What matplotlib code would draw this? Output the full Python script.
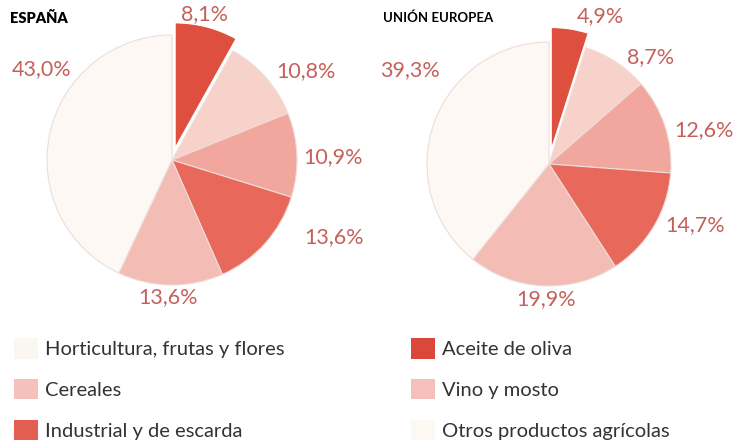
import matplotlib.pyplot as plt
from matplotlib.patches import Patch

plt.rcParams['font.family'] = ['Lato', 'DejaVu Sans']

# categories in the order they appear clockwise from 12 o'clock
slice_names = ['Aceite de oliva', 'Otros productos agrícolas', 'Vino y mosto',
               'Industrial y de escarda', 'Cereales', 'Horticultura, frutas y flores']
spain_values = [8.1, 10.8, 10.9, 13.6, 13.6, 43.0]
eu_values = [4.9, 8.7, 12.6, 14.7, 19.9, 39.3]
spain_labels = ['8,1%', '10,8%', '10,9%', '13,6%', '13,6%', '43,0%']
eu_labels = ['4,9%', '8,7%', '12,6%', '14,7%', '19,9%', '39,3%']

slice_colors = ['#de4f3e', '#f6d2cb', '#f2a79e', '#e9685c', '#f3bcb4', '#fdf8f4']
label_color = '#c4615b'

# legend (two columns, as in the original)
legend_left = ['Horticultura, frutas y flores', 'Cereales', 'Industrial y de escarda']
legend_left_colors = ['#f9f7f0', '#f4c2ba', '#e35e52']
legend_right = ['Aceite de oliva', 'Vino y mosto', 'Otros productos agrícolas']
legend_right_colors = ['#d9483a', '#f4c0b9', '#fbf9f2']

W, H = 744, 447
fig = plt.figure(figsize=(W / 100, H / 100), dpi=100)


def pie_axes(cx, cy, r):
    # axes so that a unit-radius pie has centre (cx, cy) px and radius r px
    return fig.add_axes([(cx - r) / W, (H - cy - r) / H, 2 * r / W, 2 * r / H])


def draw_pie(ax, values, labels, label_pos, explode):
    wedges, _ = ax.pie(values, colors=slice_colors, startangle=90, counterclock=False,
                       explode=[explode] + [0] * (len(values) - 1),
                       wedgeprops=dict(edgecolor='#eeddd9', linewidth=0.8))
    wedges[0].set_edgecolor('white')
    for w in wedges:
        w.set_clip_on(False)
    for txt, (x, y) in zip(labels, label_pos):
        ax.text(x, y, txt, ha='center', va='center', fontsize=15.5, color=label_color)
    ax.set_xlim(-1, 1)
    ax.set_ylim(-1, 1)
    ax.set_aspect('equal')
    ax.axis('off')


spain_pos = [(0.26, 1.17), (1.07, 0.71), (1.29, 0.02), (1.30, -0.62), (-0.03, -1.10), (-1.04, 0.73)]
eu_pos = [(0.42, 1.21), (0.83, 0.88), (1.27, 0.28), (1.20, -0.50), (-0.02, -1.11), (-1.14, 0.77)]

ax1 = pie_axes(172, 160, 125)
draw_pie(ax1, spain_values, spain_labels, spain_pos, 0.1)
ax2 = pie_axes(549, 164, 122)
draw_pie(ax2, eu_values, eu_labels, eu_pos, 0.12)

fig.text(10 / W, 1 - 18 / H, 'ESPAÑA', fontsize=10.5, fontweight='heavy', va='center')
fig.text(383 / W, 1 - 18 / H, 'UNIÓN EUROPEA', fontsize=9.5, fontweight='bold', va='center')

for names, cols, x in [(legend_left, legend_left_colors, 8), (legend_right, legend_right_colors, 405)]:
    handles = [Patch(facecolor=c, edgecolor='none') for c in cols]
    leg = fig.legend(handles, names, loc='upper left', bbox_to_anchor=(x / W, 1 - 332 / H),
                     frameon=False, fontsize=14.5, handlelength=1.2, handleheight=1.2,
                     handletextpad=0.35, labelspacing=1.0, borderaxespad=0, borderpad=0.3)
    for t in leg.get_texts():
        t.set_color('#333333')

fig.savefig('out.png', dpi=100)
